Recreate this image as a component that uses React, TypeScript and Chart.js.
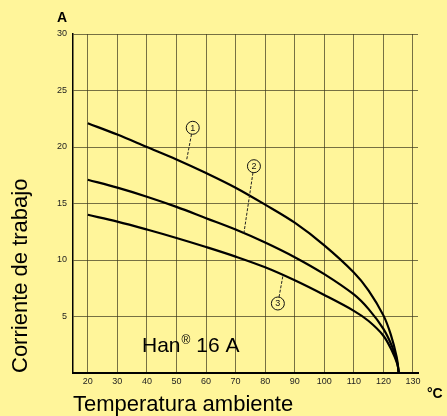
import React, { useEffect, useRef } from 'react';
import { Chart, registerables } from 'chart.js';

Chart.register(...registerables);

// Curve 1
const temps1 = [20, 30, 40, 50, 60, 70, 80, 90, 100, 110, 115, 120, 122.5, 124.5, 125.2];
const current1 = [22.1, 21.1, 20.0, 18.9, 17.7, 16.4, 14.9, 13.3, 11.3, 8.9, 7.3, 5.1, 3.4, 1.4, 0];
// Curve 2
const temps2 = [20, 30, 40, 50, 60, 70, 80, 90, 100, 110, 115, 120, 123, 124.7, 125.2];
const current2 = [17.1, 16.4, 15.6, 14.7, 13.7, 12.7, 11.55, 10.25, 8.75, 6.95, 5.65, 3.9, 2.3, 0.9, 0];
// Curve 3
const temps3 = [20, 30, 40, 50, 60, 70, 80, 90, 100, 110, 115, 120, 123, 124.7, 125.2];
const current3 = [14.0, 13.4, 12.7, 11.95, 11.15, 10.3, 9.35, 8.2, 6.9, 5.5, 4.6, 3.3, 1.9, 0.8, 0];

const xTicks = [20, 30, 40, 50, 60, 70, 80, 90, 100, 110, 120, 130];
const yTicks = [5, 10, 15, 20, 25, 30];
const curveNames = ['1', '2', '3'];

const BG = '#FFF59A';
const GRID = 'rgba(60,55,30,0.7)';

const toPoints = (xs: number[], ys: number[]) => xs.map((x, i) => ({ x, y: ys[i] }));

const annotationPlugin = {
  id: 'annotations',
  afterDatasetsDraw(chart: any) {
    const { ctx, scales, chartArea } = chart;
    const xs = scales.x;
    const ys = scales.y;
    ctx.save();
    const marks = [
      { cx: 55.5, cy: 21.7, lx: 53.4, ly: 18.8 },
      { cx: 76.2, cy: 18.3, lx: 72.8, ly: 12.35 },
      { cx: 84.3, cy: 6.15, lx: 86.0, ly: 8.6 },
    ];
    marks.forEach((m, i) => {
      const px = xs.getPixelForValue(m.cx);
      const py = ys.getPixelForValue(m.cy);
      const lx = xs.getPixelForValue(m.lx);
      const ly = ys.getPixelForValue(m.ly);
      const r = 6.5;
      const dx = lx - px;
      const dy = ly - py;
      const d = Math.hypot(dx, dy);
      ctx.beginPath();
      ctx.setLineDash([3, 1.5]);
      ctx.strokeStyle = '#222';
      ctx.lineWidth = 1;
      ctx.moveTo(px + (dx / d) * r, py + (dy / d) * r);
      ctx.lineTo(lx, ly);
      ctx.stroke();
      ctx.setLineDash([]);
      ctx.beginPath();
      ctx.arc(px, py, r, 0, Math.PI * 2);
      ctx.fillStyle = BG;
      ctx.fill();
      ctx.strokeStyle = '#111';
      ctx.lineWidth = 1;
      ctx.stroke();
      ctx.fillStyle = '#111';
      ctx.font = '9px "Liberation Sans", Arial, sans-serif';
      ctx.textAlign = 'center';
      ctx.textBaseline = 'middle';
      ctx.fillText(curveNames[i], px, py + 0.5);
    });

    const hx = chartArea.left + 69;
    const hy = chartArea.bottom - 21;
    ctx.fillStyle = '#000';
    ctx.textAlign = 'left';
    ctx.textBaseline = 'alphabetic';
    ctx.font = '21px "Liberation Sans", Arial, sans-serif';
    ctx.fillText('Han', hx, hy);
    const w1 = ctx.measureText('Han').width;
    ctx.font = '12px "Liberation Sans", Arial, sans-serif';
    ctx.fillText('®', hx + w1 + 1, hy - 8);
    const w2 = ctx.measureText('®').width;
    ctx.font = '21px "Liberation Sans", Arial, sans-serif';
    ctx.fillText(' 16 A', hx + w1 + 1 + w2, hy);

    ctx.font = 'bold 14px "Liberation Sans", Arial, sans-serif';
    ctx.textAlign = 'center';
    ctx.textBaseline = 'middle';
    ctx.fillText('A', chartArea.left - 11, chartArea.top - 16);
    ctx.textAlign = 'left';
    ctx.fillText('°C', chartArea.right + 9, chartArea.bottom + 21);
    ctx.restore();
  },
};

export default function App() {
  const canvasRef = useRef<HTMLCanvasElement | null>(null);

  useEffect(() => {
    const canvas = canvasRef.current;
    if (!canvas) return;
    const lineDs = (xs: number[], ys: number[]) => ({
      data: toPoints(xs, ys),
      borderColor: '#000',
      borderWidth: 2.2,
      pointRadius: 0,
      fill: false,
      tension: 0.35,
    });
    const chart = new Chart(canvas, {
      type: 'line',
      data: {
        datasets: [lineDs(temps1, current1), lineDs(temps2, current2), lineDs(temps3, current3)],
      },
      options: {
        animation: false,
        responsive: false,
        maintainAspectRatio: false,
        layout: { padding: { left: 0, top: 34, right: 29, bottom: 0 } },
        plugins: { legend: { display: false }, tooltip: { enabled: false } },
        scales: {
          x: {
            type: 'linear',
            min: 15,
            max: 131.7,
            afterBuildTicks: (s: any) => {
              s.ticks = xTicks.map((v) => ({ value: v }));
            },
            afterFit: (s: any) => {
              s.height = 43;
            },
            grid: { color: GRID, lineWidth: 1, drawTicks: false },
            border: { display: true, color: '#000', width: 2 },
            ticks: {
              padding: 3,
              color: '#222',
              font: { size: 9, family: '"Liberation Sans", Arial, sans-serif' },
              maxRotation: 0,
              autoSkip: false,
            },
            title: {
              display: true,
              text: 'Temperatura ambiente',
              align: 'start',
              color: '#000',
              font: { size: 22, family: '"Liberation Sans", Arial, sans-serif', lineHeight: 1.0 },
              padding: { top: 0, bottom: 0 },
            },
          },
          y: {
            type: 'linear',
            min: 0,
            max: 30,
            afterBuildTicks: (s: any) => {
              s.ticks = yTicks.map((v) => ({ value: v }));
            },
            afterFit: (s: any) => {
              s.width = 73;
            },
            grid: { color: GRID, lineWidth: 1, drawTicks: false },
            border: { display: true, color: '#000', width: 1.5 },
            ticks: {
              padding: 6,
              color: '#222',
              font: { size: 9, family: '"Liberation Sans", Arial, sans-serif' },
              autoSkip: false,
            },
            title: {
              display: true,
              text: 'Corriente de trabajo',
              align: 'start',
              color: '#000',
              font: { size: 22, family: '"Liberation Sans", Arial, sans-serif', lineHeight: 1.0 },
              padding: { top: 10, bottom: 0 },
            },
          },
        },
      },
      plugins: [annotationPlugin],
    });
    return () => chart.destroy();
  }, []);

  return (
    <div style={{ position: 'fixed', left: 0, top: 0, width: 447, height: 416, background: BG }}>
      <canvas ref={canvasRef} width={447} height={416} style={{ display: 'block' }} />
    </div>
  );
}
